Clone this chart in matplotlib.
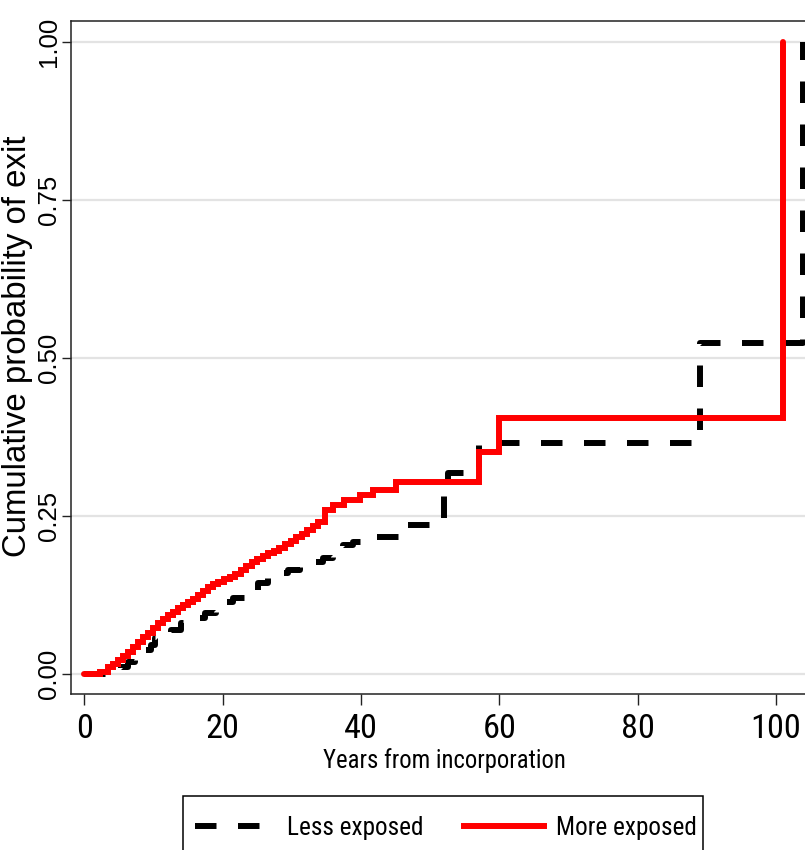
import os
import matplotlib
matplotlib.use("Agg")
import matplotlib.pyplot as plt
from matplotlib import font_manager as fm
from matplotlib.font_manager import FontProperties
from matplotlib.textpath import TextPath
from matplotlib.lines import Line2D
from matplotlib.patches import Rectangle


def pick(fams):
    for f in fams:
        try:
            fm.findfont(FontProperties(family=f), fallback_to_default=False)
            return f
        except Exception:
            pass
    return "DejaVu Sans"


REG = pick(["Liberation Sans", "Arial", "DejaVu Sans"])


def find_narrow():
    cands = [("Liberation Sans Narrow", "normal"), ("Arial Narrow", "normal"),
             ("Roboto Condensed", "normal"), ("Noto Sans Condensed", "normal"),
             ("Noto Sans", "condensed"), ("Open Sans Condensed", "normal"),
             ("Open Sans", "condensed"), ("Noto Sans SemiCondensed", "normal"),
             ("Noto Sans", "semi-condensed")]
    for fam, st in cands:
        try:
            path = fm.findfont(FontProperties(family=fam, stretch=st),
                               fallback_to_default=False)
        except Exception:
            continue
        name = os.path.basename(path).lower()
        if "narrow" in name or "condensed" in name or "cond" in name:
            return fam, st
    return REG, "normal"


NARROW, NSTRETCH = find_narrow()


def fit_size(text, family, stretch, width_px, height_px):
    fp = FontProperties(family=family, stretch=stretch, size=100)
    ext = TextPath((0, 0), text, prop=fp).get_extents()
    s_w = 100 * (width_px * 0.72) / ext.width
    s_h = 100 * (height_px * 0.72) / ext.height
    return min(s_w, s_h)


# ---------------- data ----------------
less_t = [0, 3.5, 4.5, 5.3, 6.3, 7.3, 8.5, 9.6, 10.2, 11.5, 12.5, 14.0, 16.0,
          17.4, 19.0, 20.0, 21.5, 23.5, 25.1, 26.5, 27.8, 29.4, 31.2, 32.9,
          34.5, 36.0, 37.4, 38.9, 40.3, 45.9, 46.8, 52.0, 52.6, 57.0, 89.0,
          103.9]
less_p = [0, 0.003, 0.006, 0.011, 0.019, 0.027, 0.038, 0.046, 0.057, 0.065,
          0.070, 0.081, 0.089, 0.096, 0.105, 0.114, 0.120, 0.133, 0.144,
          0.152, 0.160, 0.164, 0.169, 0.177, 0.184, 0.191, 0.204, 0.209,
          0.217, 0.229, 0.236, 0.296, 0.318, 0.365, 0.524, 1.0]

more_t = [0, 2.3, 3.4, 4.1, 4.9, 5.6, 6.3, 7.0, 7.7, 8.5, 9.2, 9.9, 10.6,
          11.3, 12.1, 12.8, 13.5, 14.3, 15.0, 15.7, 16.4, 17.1, 17.9, 18.6,
          19.3, 20.2, 21.0, 21.8, 22.6, 23.4, 24.2, 25.0, 25.8, 26.6, 27.4,
          28.2, 29.0, 29.8, 30.6, 31.4, 32.2, 33.0, 33.8, 34.8, 36.0, 37.6,
          39.8, 41.7, 45.0, 57.1, 60.0, 101.0]
more_p = [0, 0.003, 0.011, 0.016, 0.022, 0.028, 0.035, 0.043, 0.051, 0.058,
          0.065, 0.073, 0.081, 0.087, 0.093, 0.098, 0.104, 0.109, 0.114,
          0.119, 0.125, 0.131, 0.137, 0.142, 0.146, 0.150, 0.154, 0.159,
          0.165, 0.171, 0.177, 0.182, 0.187, 0.191, 0.195, 0.199, 0.205,
          0.211, 0.217, 0.222, 0.228, 0.234, 0.240, 0.259, 0.267, 0.275,
          0.283, 0.291, 0.304, 0.351, 0.405, 1.0]

series_labels = ["Less exposed", "More exposed"]
x_ticks = [0, 20, 40, 60, 80, 100]
y_ticks = [0.0, 0.25, 0.50, 0.75, 1.0]
y_ticklabels = ["0.00", "0.25", "0.50", "0.75", "1.00"]
x_label = "Years from incorporation"
y_label = "Cumulative probability of exit"

# ---------------- font sizes fitted to the reference ink extents --------
xtick_fs = fit_size("100", NARROW, NSTRETCH, 48, 25)
xlabel_fs = fit_size(x_label, NARROW, NSTRETCH, 240, 40)
leg_fs = fit_size(series_labels[0], NARROW, NSTRETCH, 133, 34)
ylabel_fs = fit_size(y_label, REG, "normal", 420, 60)
ytick_fs = 18.5

# ---------------- figure ----------------
W, H = 805, 850
fig = plt.figure(figsize=(W / 100, H / 100), dpi=100)
fig.patch.set_facecolor("white")

x0, x1 = -1.95, 106.0
ax_left_px, ax_top_px, ax_bot_px = 71, 21, 694
px_per_year = 6.915
ax_w_px = (x1 - x0) * px_per_year
ax_h_px = ax_bot_px - ax_top_px
ax = fig.add_axes([ax_left_px / W, (H - ax_bot_px) / H, ax_w_px / W, ax_h_px / H])
ax.set_xlim(x0, x1)
ax.set_ylim(-0.0316, 1.0332)

for y in y_ticks:
    ax.axhline(y, color="#e3e3e3", lw=1.6, zorder=0)

lw = 4.3
ax.plot(less_t, less_p, drawstyle="steps-post", color="black", lw=lw,
        dashes=(3.6, 3.6), dash_capstyle="butt", zorder=2,
        label=series_labels[0])
ax.plot(more_t, more_p, drawstyle="steps-post", color="#ff0000", lw=lw,
        solid_capstyle="round", solid_joinstyle="miter", zorder=3,
        label=series_labels[1])

for s in ["left", "bottom", "top"]:
    ax.spines[s].set_linewidth(1.1)
    ax.spines[s].set_color("#222222")
ax.spines["right"].set_visible(False)

ax.set_xticks(x_ticks)
ax.set_xticklabels([str(v) for v in x_ticks], fontfamily=NARROW,
                   fontstretch=NSTRETCH, fontsize=xtick_fs)
ax.set_yticks(y_ticks)
ax.set_yticklabels(y_ticklabels, rotation=90, va="center",
                   fontfamily=REG, fontsize=ytick_fs)
ax.tick_params(axis="y", length=6.5, width=1.0, pad=1.0, color="#222222")
ax.tick_params(axis="x", length=8, width=1.0, pad=6, color="#222222")

ax.set_xlabel(x_label, fontfamily=NARROW, fontstretch=NSTRETCH,
              fontsize=xlabel_fs)
ax.xaxis.set_label_coords(0.4997, (ax_bot_px - 748) / ax_h_px)
ax.set_ylabel(y_label, fontfamily=REG, fontsize=ylabel_fs)
ax.yaxis.set_label_coords((33 - ax_left_px) / ax_w_px, (ax_bot_px - 346) / ax_h_px)

# legend (box bottom runs off the figure, as in the reference)
f_px = leg_fs * 100 / 72
handles = [Line2D([], [], color="black", lw=lw, dashes=(3.6, 3.6)),
           Line2D([], [], color="#ff0000", lw=lw)]
leg = fig.legend(handles, series_labels, loc="upper left",
                 bbox_to_anchor=(183 / W, (H - 804) / H), ncol=2,
                 prop={"family": NARROW, "stretch": NSTRETCH, "size": leg_fs},
                 frameon=False, handlelength=80 / f_px,
                 handletextpad=12 / f_px, columnspacing=40 / f_px,
                 borderpad=12 / f_px, borderaxespad=0)
fig.patches.append(Rectangle((183 / W, -0.05), (703 - 183) / W,
                             (H - 796) / H + 0.05, transform=fig.transFigure,
                             fill=False, edgecolor="black", lw=1.1))

fig.savefig("out.png", dpi=100, facecolor="white")
